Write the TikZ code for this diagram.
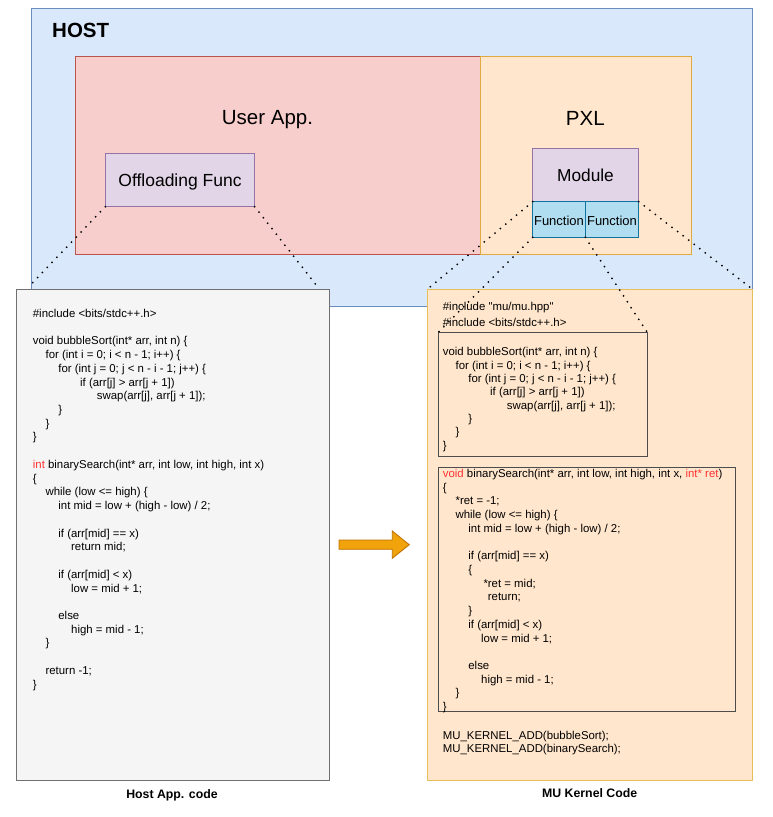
\documentclass[tikz,border=0pt]{standalone}
\usepackage{fontspec}
\setmainfont{Liberation Sans}
\newfontfamily\codefont{Liberation Sans}[Ligatures=TeXOff]
\definecolor{hostfill}{HTML}{DAE8FC}
\definecolor{hostline}{HTML}{6C8EBF}
\definecolor{userfill}{HTML}{F8CECC}
\definecolor{userline}{HTML}{B85450}
\definecolor{pxlfill}{HTML}{FFE6CC}
\definecolor{pxlline}{HTML}{E0AA40}
\definecolor{codeline}{HTML}{E6BE5A}
\definecolor{purfill}{HTML}{E1D5E7}
\definecolor{purline}{HTML}{9673A6}
\definecolor{bluefill}{HTML}{B1DDF0}
\definecolor{blueline}{HTML}{10739E}
\definecolor{grayfill}{HTML}{F5F5F5}
\definecolor{grayline}{HTML}{707070}
\definecolor{innerline}{HTML}{4D4D4D}
\definecolor{arrowfill}{HTML}{F0A30A}
\definecolor{arrowline}{HTML}{BD7000}
\definecolor{codered}{HTML}{FF3333}
\newcommand{\codeln}[2]{\hbox{\hskip#1pt\relax #2}}
\newcommand{\codeblock}[2]{\vtop{\baselineskip=#1pt\lineskiplimit=-100pt\lineskip=0pt #2}}
\newcommand{\red}[1]{\textcolor{codered}{#1}}
\begin{document}
\begin{tikzpicture}[x=1pt,y=-1pt,
  box/.style={inner sep=0pt,outer sep=0pt,line width=1pt},
  lbl/.style={inner sep=0pt,anchor=base},
  code/.style={inner sep=0pt,anchor=base west,font=\codefont\fontsize{11.4}{13.7}\selectfont},
  dotline/.style={draw=black,line width=2pt,line cap=round,dash pattern=on 0pt off 7pt}]
\useasboundingbox (0,0) rectangle (773,817);
\fill[white] (0,0) rectangle (773,817);

% HOST
\node[box,fill=hostfill,draw=hostline,minimum width=721.7pt,minimum height=298.5pt] (host) at (391.85,157.25) {};
\node[lbl,anchor=base west,font=\bfseries\fontsize{20.5}{24}\selectfont] (hostlbl) at (52,37.3) {HOST};

% User App and PXL
\node[box,fill=userfill,draw=userline,minimum width=405pt,minimum height=197.6pt] (user) at (277.5,155.5) {};
\node[box,fill=pxlfill,draw=pxlline,minimum width=211.7pt,minimum height=197.6pt] (pxl) at (585.85,155.5) {};
\node[lbl,font=\fontsize{20.5}{24}\selectfont] (userlbl) at (267.5,124.7) {User App.};
\node[lbl,font=\fontsize{20.5}{24}\selectfont] (pxllbl) at (585.3,125) {PXL};

% Offloading Func
\node[box,fill=purfill,draw=purline,minimum width=149.4pt,minimum height=53.4pt] (off) at (180,180) {};
\node[lbl,font=\fontsize{17.5}{21}\selectfont] (offlbl) at (180,186) {Offloading Func};

% Module + Functions
\node[box,fill=purfill,draw=purline,minimum width=106pt,minimum height=53.4pt] (mod) at (585.7,175) {};
\node[lbl,font=\fontsize{17.3}{21}\selectfont] (modlbl) at (585.5,181.7) {Module};
\node[box,fill=bluefill,draw=blueline,minimum width=52.6pt,minimum height=35.6pt] (f1) at (559,219.5) {};
\node[box,fill=bluefill,draw=blueline,minimum width=53.4pt,minimum height=35.6pt] (f2) at (612,219.5) {};
\node[lbl,font=\fontsize{13}{15}\selectfont] (f1lbl) at (559,225) {Function};
\node[lbl,font=\fontsize{13}{15}\selectfont] (f2lbl) at (612,225) {Function};

% Code boxes
\node[box,fill=grayfill,draw=grayline,minimum width=313pt,minimum height=491.7pt] (lcode) at (172.5,534.85) {};
\node[box,fill=pxlfill,draw=codeline,minimum width=325.4pt,minimum height=491.4pt] (rcode) at (590,535) {};
\node[box,fill=pxlfill,draw=innerline,minimum width=208.9pt,minimum height=124.2pt] (in1) at (542.75,394.4) {};
\node[box,fill=pxlfill,draw=innerline,minimum width=297pt,minimum height=244.4pt] (in2) at (586.8,589.5) {};

% Left code
\node[code] (lcodetxt) at (32.7,317.4) {\codeblock{13.73}{%
\codeln{0}{\#include <bits/stdc++.h>}
\codeln{0}{}
\codeln{0}{void bubbleSort(int* arr, int n) \{}
\codeln{12.7}{for (int i = 0; i < n - 1; i++) \{}
\codeln{25.5}{for (int j = 0; j < n - i - 1; j++) \{}
\codeln{47.3}{if (arr[j] > arr[j + 1])}
\codeln{64}{swap(arr[j], arr[j + 1]);}
\codeln{25.5}{\}}
\codeln{12.7}{\}}
\codeln{0}{\}}
\codeln{0}{}
\codeln{0}{\red{int} binarySearch(int* arr, int low, int high, int x)}
\codeln{0}{\{}
\codeln{12.7}{while (low <= high) \{}
\codeln{25.5}{int mid = low + (high - low) / 2;}
\codeln{0}{}
\codeln{25.5}{if (arr[mid] == x)}
\codeln{38.3}{return mid;}
\codeln{0}{}
\codeln{25.5}{if (arr[mid] < x)}
\codeln{38.3}{low = mid + 1;}
\codeln{0}{}
\codeln{25.5}{else}
\codeln{38.3}{high = mid - 1;}
\codeln{12.7}{\}}
\codeln{0}{}
\codeln{12.7}{return -1;}
\codeln{0}{\}}
}};

% Right code
\node[code] (rhead) at (442.7,310.7) {\codeblock{15.6}{%
\codeln{0}{\#include "mu/mu.hpp"}
\codeln{0}{\#include <bits/stdc++.h>}
}};
\node[code] (rbubble) at (442.7,355.7) {\codeblock{13.35}{%
\codeln{0}{void bubbleSort(int* arr, int n) \{}
\codeln{12.7}{for (int i = 0; i < n - 1; i++) \{}
\codeln{25.5}{for (int j = 0; j < n - i - 1; j++) \{}
\codeln{47.3}{if (arr[j] > arr[j + 1])}
\codeln{64}{swap(arr[j], arr[j + 1]);}
\codeln{25.5}{\}}
\codeln{12.7}{\}}
\codeln{0}{\}}
}};
\node[code] (rsearch) at (442.7,477.3) {\codeblock{13.73}{%
\codeln{0}{\red{void} binarySearch(int* arr, int low, int high, int x, \red{int* ret})}
\codeln{0}{\{}
\codeln{12.7}{*ret = -1;}
\codeln{12.7}{while (low <= high) \{}
\codeln{25.5}{int mid = low + (high - low) / 2;}
\codeln{0}{}
\codeln{25.5}{if (arr[mid] == x)}
\codeln{25.5}{\{}
\codeln{40.6}{*ret = mid;}
\codeln{45}{return;}
\codeln{25.5}{\}}
\codeln{25.5}{if (arr[mid] < x)}
\codeln{38.3}{low = mid + 1;}
\codeln{0}{}
\codeln{25.5}{else}
\codeln{38.3}{high = mid - 1;}
\codeln{12.7}{\}}
\codeln{0}{\}}
}};
\node[code] (rkernel) at (442.7,739) {\codeblock{13.3}{%
\codeln{0}{MU\_KERNEL\_ADD(bubbleSort);}
\codeln{0}{MU\_KERNEL\_ADD(binarySearch);}
}};

% Captions
\node[lbl,font=\bfseries\fontsize{12.3}{15}\selectfont] (lcap) at (172,798.8) {Host App. code};
\node[lbl,font=\bfseries\fontsize{12.3}{15}\selectfont] (rcap) at (589.7,797.8) {MU Kernel Code};

% Block arrow
\draw[fill=arrowfill,draw=arrowline,line width=0.8pt,line join=miter]
  (339,540) -- (392.3,540) -- (392.3,531) -- (409.3,544.7) -- (392.3,558.3)
  -- (392.3,549.3) -- (339,549.3) -- cycle;

% Dotted zoom lines
\coordinate (lz1) at (29.5,286);
\coordinate (lz2) at (317,286);
\draw[dotline] (off.south west) -- (lz1);
\draw[dotline] (off.south east) -- (lz2);
\draw[dotline] (mod.south west) -- (rcode.north west);
\draw[dotline] (mod.south east) -- (rcode.north east);
\draw[dotline] (f1.south west) -- (in1.north west);
\draw[dotline] (f1.south east) -- (in1.north east);
\end{tikzpicture}
\end{document}
